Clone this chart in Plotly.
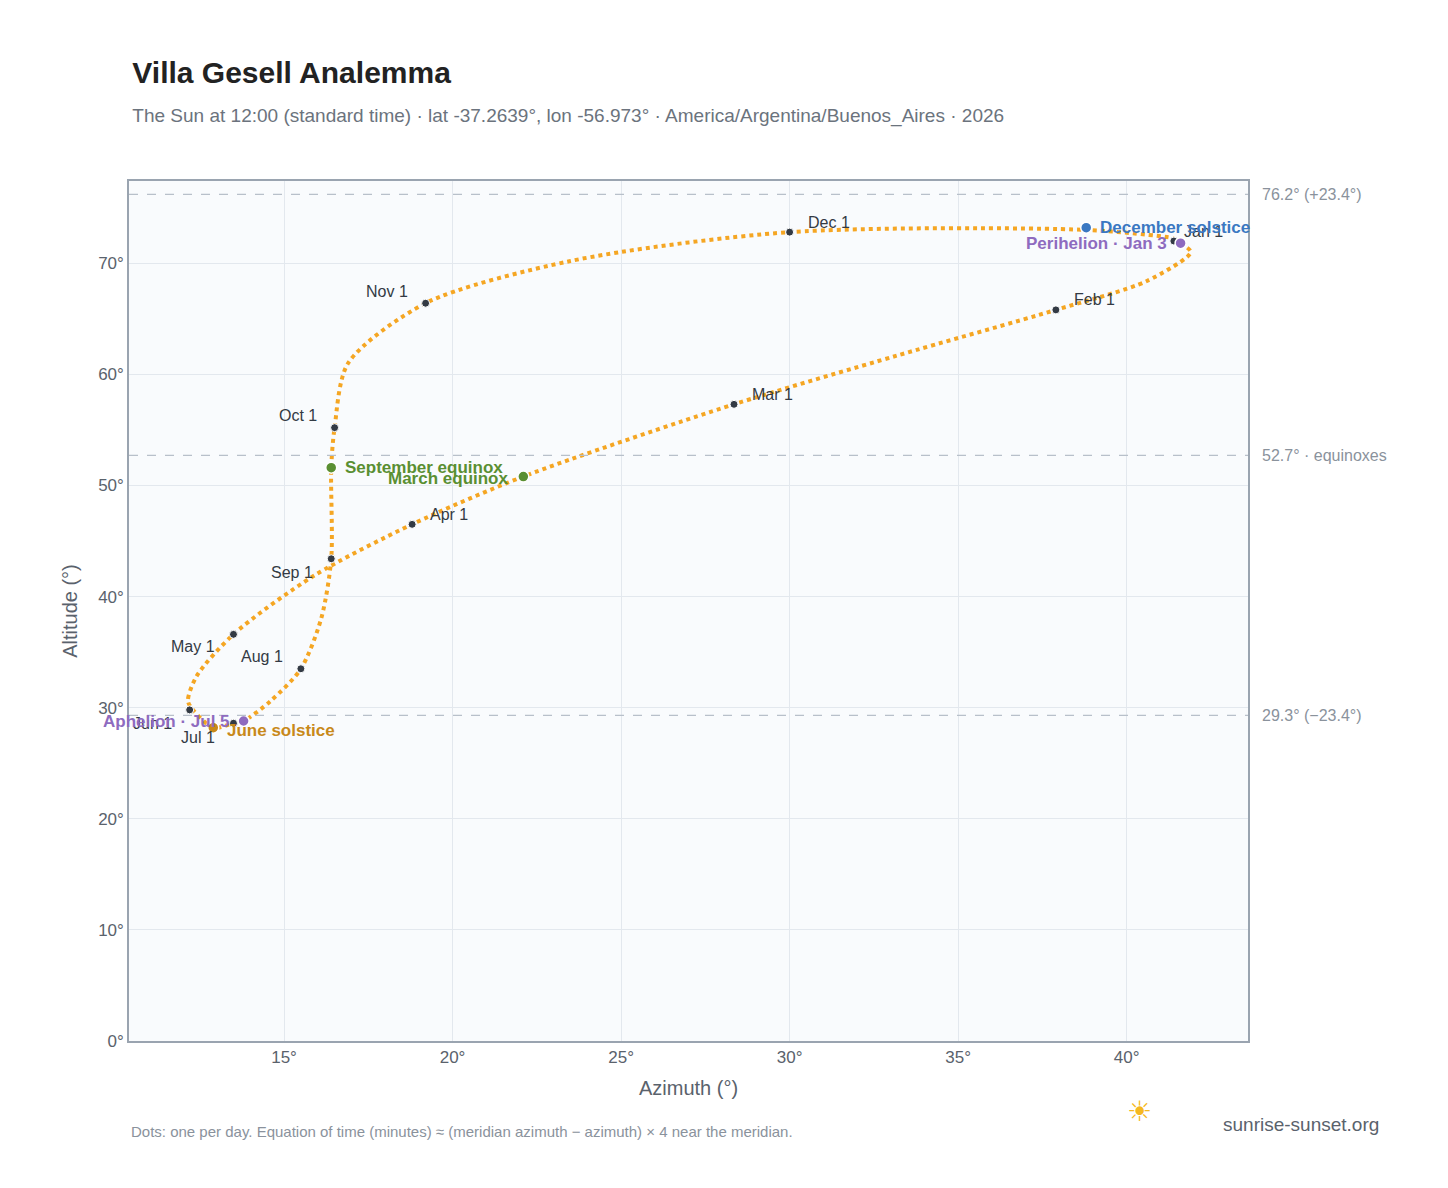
import plotly.graph_objects as go

# analemma path (azimuth, altitude in degrees)
path_az = [41.4, 41.6, 41.9, 40.6, 37.9, 33.2, 28.35, 22.1, 18.8, 15.9, 13.5, 12.4, 12.15, 12.3,
           12.9, 13.5, 13.8, 14.6, 15.5, 16.1, 16.4, 16.4, 16.5, 16.9, 19.2, 23.5, 30.0, 38.8, 41.3, 41.4]
path_alt = [72.2, 71.8, 71.0, 68.4, 65.8, 61.7, 57.3, 50.8, 46.5, 41.9, 36.6, 32.8, 30.6, 29.8,
            28.2, 28.6, 28.8, 30.6, 33.5, 38.0, 43.4, 51.6, 55.2, 61.0, 66.4, 70.2, 72.8, 73.0, 72.3, 72.2]

months = ["Jan 1", "Feb 1", "Mar 1", "Apr 1", "May 1", "Jun 1", "Jul 1", "Aug 1", "Sep 1", "Oct 1", "Nov 1", "Dec 1"]
month_az = [41.4, 37.9, 28.35, 18.8, 13.5, 12.2, 13.5, 15.5, 16.4, 16.5, 19.2, 30.0]
month_alt = [72.0, 65.8, 57.3, 46.5, 36.6, 29.8, 28.6, 33.5, 43.4, 55.2, 66.4, 72.8]

events = ["December solstice", "Perihelion · Jan 3", "March equinox", "September equinox", "June solstice", "Aphelion · Jul 5"]
event_az = [38.8, 41.6, 22.1, 16.4, 12.9, 13.8]
event_alt = [73.2, 71.8, 50.8, 51.6, 28.2, 28.8]
event_col = ["#3a78c2", "#8e6bbf", "#5a8f32", "#5a8f32", "#c8891a", "#8e6bbf"]

ref_lines = [76.2, 52.7, 29.3]
ref_text = ["76.2° (+23.4°)", "52.7° · equinoxes", "29.3° (−23.4°)"]

az_ticks = [15, 20, 25, 30, 35, 40]

fig = go.Figure()
fig.add_trace(go.Scatter(x=path_az, y=path_alt, mode="lines",
                         line=dict(color="#f5a623", width=4, dash="dot", shape="spline", smoothing=0.8),
                         hoverinfo="skip"))
fig.add_trace(go.Scatter(x=month_az, y=month_alt, mode="markers",
                         marker=dict(color="#333a44", size=8, line=dict(color="white", width=1))))
fig.add_trace(go.Scatter(x=event_az, y=event_alt, mode="markers",
                         marker=dict(color=event_col, size=11, line=dict(color="white", width=1.5))))

for y, t in zip(ref_lines, ref_text):
    fig.add_hline(y=y, line=dict(color="#b8c0ca", width=1.3, dash="dash"))
    fig.add_annotation(x=1, xref="paper", y=y, text=t, showarrow=False, xanchor="left",
                       xshift=12, font=dict(color="#8a929c", size=16))

# month label offsets (px)
offs = [(8, 10, "left"), (16, 10, "left"), (16, 10, "left"), (16, 10, "left"), (-16, -12, "right"),
        (-16, -14, "right"), (-16, -14, "right"), (-16, 12, "right"), (-16, -14, "right"),
        (-16, 12, "right"), (-16, 12, "right"), (16, 10, "left")]
for m, x, y, (dx, dy, anc) in zip(months, month_az, month_alt, offs):
    fig.add_annotation(x=x, y=y, text=m, showarrow=False, xanchor=anc, xshift=dx, yshift=dy,
                       font=dict(color="#333a44", size=16))

ev_offs = [(12, 0, "left"), (-12, 0, "right"), (-12, -2, "right"), (12, 0, "left"), (12, -3, "left"), (-12, 0, "right")]
for e, x, y, c, (dx, dy, anc) in zip(events, event_az, event_alt, event_col, ev_offs):
    fig.add_annotation(x=x, y=y, text="<b>" + e + "</b>", showarrow=False, xanchor=anc,
                       xshift=dx, yshift=dy, font=dict(color=c, size=17))

fig.add_annotation(x=0, xref="paper", y=-0.118, yref="paper", text="Dots: one per day. Equation of time (minutes) ≈ (meridian azimuth − azimuth) × 4 near the meridian.",
                   showarrow=False, xanchor="left", font=dict(color="#8a929c", size=15))
fig.add_annotation(x=1.1185, xref="paper", y=-0.112, yref="paper", text="sunrise-sunset.org",
                   showarrow=False, xanchor="right", font=dict(color="#5a626c", size=19))
fig.add_annotation(x=0.916, xref="paper", y=-0.102, yref="paper", text="☀", showarrow=False,
                   font=dict(color="#f5b820", size=28))

fig.update_layout(
    width=1448, height=1188, showlegend=False,
    paper_bgcolor="white", plot_bgcolor="#f9fbfd",
    font=dict(family="Liberation Sans, Arial, sans-serif", color="#5a626c", size=17),
    margin=dict(l=121, r=208, t=173, b=155),
    title=dict(text="<b>Villa Gesell Analemma</b><br><span style='font-size:19px;color:#6b737d'>The Sun at 12:00 (standard time) · lat -37.2639°, lon -56.973° · America/Argentina/Buenos_Aires · 2026</span>",
               x=0.003, xref="paper", y=0.937, yanchor="top", font=dict(size=30, color="#222")),
    xaxis=dict(title="Azimuth (°)", range=[10.4, 43.6], tickvals=az_ticks,
               ticktext=[f"{v}°" for v in az_ticks],
               gridcolor="#e3e8ee", zeroline=False, showline=True, linecolor="#9aa4b0", mirror=True, linewidth=1.5),
    yaxis=dict(title="Altitude (°)", range=[0, 77.4], dtick=10, ticksuffix="°",
               gridcolor="#e3e8ee", zeroline=False, showline=True, linecolor="#9aa4b0", mirror=True, linewidth=1.5),
)
fig.write_html("out.html")
